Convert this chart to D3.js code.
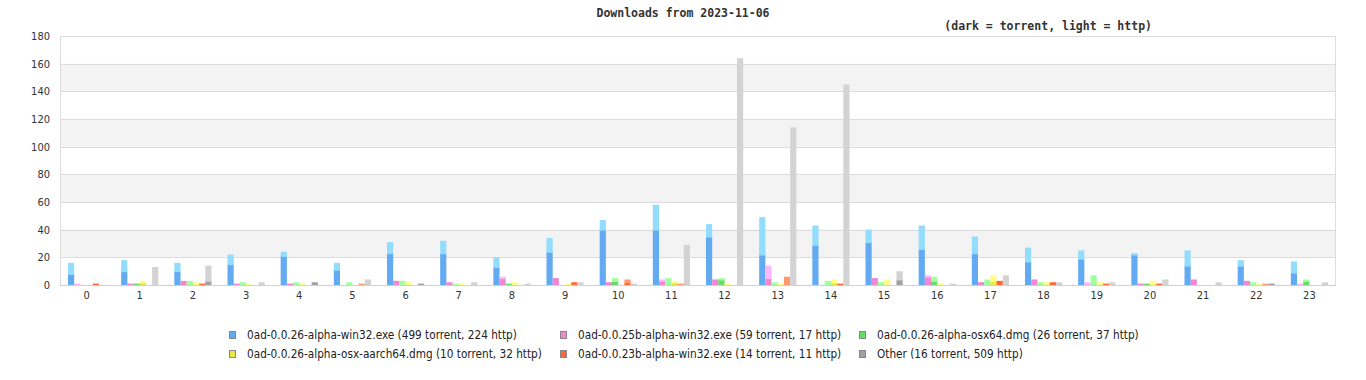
<!DOCTYPE html>
<html>
<head>
<meta charset="utf-8">
<script src="https://cdn.jsdelivr.net/npm/d3@7"></script>
<style>
  body { margin: 0; background: #fff; }
  text { font-family: "DejaVu Sans Condensed", "DejaVu Sans", sans-serif; font-stretch: condensed; }
  .mono { font-family: "DejaVu Sans Mono", monospace; font-weight: bold; font-stretch: normal; }
</style>
</head>
<body>
<div id="chart"></div>
<script>
const hours = ["0","1","2","3","4","5","6","7","8","9","10","11","12","13","14","15","16","17","18","19","20","21","22","23"];
const seriesNames = [
  "0ad-0.0.26-alpha-win32.exe (499 torrent, 224 http)",
  "0ad-0.0.25b-alpha-win32.exe (59 torrent, 17 http)",
  "0ad-0.0.26-alpha-osx64.dmg (26 torrent, 37 http)",
  "0ad-0.0.26-alpha-osx-aarch64.dmg (10 torrent, 32 http)",
  "0ad-0.0.23b-alpha-win32.exe (14 torrent, 11 http)",
  "Other (16 torrent, 509 http)"
];
const darkColors  = ["#62aaf2", "#f088d0", "#66dd66", "#e8e84a", "#ff6633", "#a0a0a0"];
const lightColors = ["#92dcfd", "#ffb6ff", "#a0ffa0", "#ffff88", "#ff9a70", "#d3d3d3"];

const torrent = [
  [8,10,10,15,21,11,23,23,13,24,40,40,35,22,29,31,26,23,17,19,22,14,14,9],
  [0,1,3,1,1,0,3,2,5,5,2,3,4,5,0,5,6,2,4,0,1,4,3,0],
  [0,1,0,0,0,0,0,0,1,0,3,0,4,0,0,0,3,0,0,0,1,0,0,3],
  [0,2,0,0,0,0,0,0,0,0,0,2,0,0,2,0,0,3,0,0,0,0,0,0],
  [1,0,1,0,0,0,0,0,0,2,2,0,0,0,1,0,0,3,2,1,1,0,0,0],
  [0,0,3,0,2,0,1,0,0,0,0,0,0,0,0,4,0,0,0,0,0,0,1,0]
];
const http = [
  [8,8,6,7,3,5,8,9,7,10,7,18,9,27,14,9,17,12,10,6,1,11,4,8],
  [1,0,0,0,0,0,0,0,1,0,0,1,0,9,0,0,1,0,0,2,0,0,0,1],
  [0,0,3,2,2,2,3,1,0,0,2,5,1,2,3,2,3,4,2,7,0,0,2,1],
  [0,1,2,1,1,0,2,1,2,1,0,1,1,1,2,4,1,4,2,2,3,0,1,0],
  [0,0,0,0,0,1,0,0,0,0,2,1,0,6,0,0,0,0,0,0,0,0,1,0],
  [0,13,11,2,0,4,0,2,1,2,1,29,164,114,145,6,1,7,2,2,4,2,0,2]
];
const yTicks = [0,20,40,60,80,100,120,140,160,180];

const W = 1366, H = 380;
const margin = { top: 36, right: 30, bottom: 95, left: 60 };
const plotW = W - margin.left - margin.right;
const plotH = H - margin.top - margin.bottom;

const svg = d3.select("#chart").append("svg")
  .attr("width", W).attr("height", H);

svg.append("text").attr("class", "mono")
  .attr("x", 683).attr("y", 17).attr("text-anchor", "middle")
  .style("font-size", "11.5px").attr("fill", "#333")
  .text("Downloads from 2023-11-06");
svg.append("text").attr("class", "mono")
  .attr("x", 1152).attr("y", 30).attr("text-anchor", "end")
  .style("font-size", "11.5px").attr("fill", "#333")
  .text("(dark = torrent, light = http)");

const g = svg.append("g").attr("transform", `translate(${margin.left},${margin.top})`);

const x = d3.scaleBand().domain(hours).range([0, plotW]).padding(0);
const y = d3.scaleLinear().domain([0, 180]).range([plotH, 0]);
const inner = d3.scaleBand().domain(d3.range(seriesNames.length))
  .range([8, x.bandwidth() - 8]).padding(0);

// alternating bands
g.selectAll("rect.band")
  .data(yTicks.slice(0, -1).filter((d, i) => i % 2 === 1))
  .enter().append("rect")
  .attr("x", 0).attr("width", plotW)
  .attr("y", d => y(d + 20)).attr("height", d => y(d) - y(d + 20))
  .attr("fill", "#f3f3f3");

g.selectAll("line.grid")
  .data(yTicks)
  .enter().append("line")
  .attr("x1", 0).attr("x2", plotW)
  .attr("y1", d => Math.round(y(d)) + 0.5).attr("y2", d => Math.round(y(d)) + 0.5)
  .attr("stroke", "#dcdcdc");

g.append("line").attr("x1", 0.5).attr("x2", 0.5).attr("y1", 0).attr("y2", plotH)
  .attr("stroke", "#dcdcdc");
g.append("line").attr("x1", plotW - 0.5).attr("x2", plotW - 0.5).attr("y1", 0).attr("y2", plotH)
  .attr("stroke", "#dcdcdc");

// bars
seriesNames.forEach((name, s) => {
  const rows = hours.map((h, i) => ({ h, t: torrent[s][i], p: http[s][i] }));
  const sg = g.append("g");
  sg.selectAll("rect.t")
    .data(rows.filter(d => d.t > 0))
    .enter().append("rect")
    .attr("x", d => x(d.h) + inner(s))
    .attr("width", inner.bandwidth())
    .attr("y", d => y(d.t))
    .attr("height", d => y(0) - y(d.t))
    .attr("fill", darkColors[s]);
  sg.selectAll("rect.p")
    .data(rows.filter(d => d.p > 0))
    .enter().append("rect")
    .attr("x", d => x(d.h) + inner(s))
    .attr("width", inner.bandwidth())
    .attr("y", d => y(d.t + d.p))
    .attr("height", d => y(d.t) - y(d.t + d.p) + (d.t > 0 ? 1 : 0))
    .attr("fill", lightColors[s]);
});

// axes
const yAxis = g.append("g").attr("transform", "translate(-6,0)")
  .call(d3.axisLeft(y).tickValues(yTicks).tickSize(0).tickPadding(4));
const xAxis = g.append("g").attr("transform", `translate(0,${plotH})`)
  .call(d3.axisBottom(x).tickSize(0).tickPadding(6));
[yAxis, xAxis].forEach(a => {
  a.select(".domain").remove();
  a.selectAll("text").style("font-size", "11px").attr("fill", "#333")
    .style("font-family", '"DejaVu Sans", sans-serif');
});
g.append("line").attr("x1", 0).attr("x2", plotW)
  .attr("y1", Math.round(y(0)) + 0.5).attr("y2", Math.round(y(0)) + 0.5)
  .attr("stroke", "#d0d0d0");

// legend
const legCols = [229, 560, 859];
const legRows = [335, 354];
const leg = svg.append("g");
seriesNames.forEach((name, i) => {
  const lx = legCols[i % 3], ly = legRows[Math.floor(i / 3)];
  leg.append("rect").attr("x", lx + 0.5).attr("y", ly - 3.5).attr("width", 6).attr("height", 7)
    .attr("fill", darkColors[i]).attr("stroke", "#888");
  leg.append("text").attr("x", lx + 18).attr("y", ly + 4)
    .style("font-size", "11.7px").attr("fill", "#222").text(name);
});
</script>
</body>
</html>
